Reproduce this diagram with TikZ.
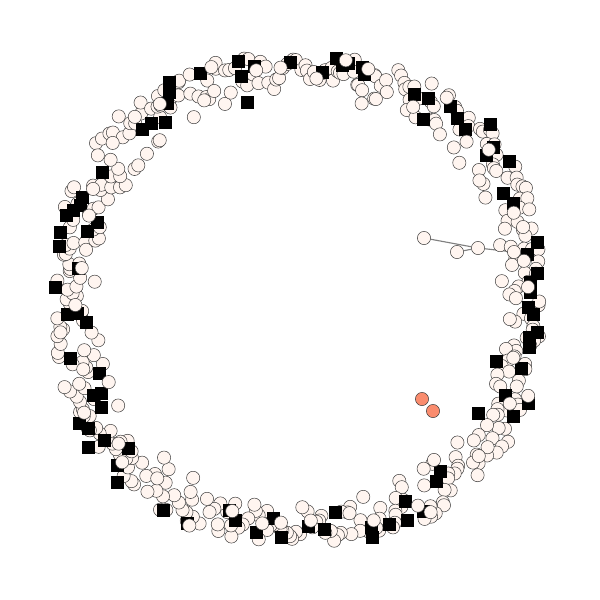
\documentclass[tikz,border=0pt]{standalone}
\usepackage{xcolor}
\usepackage{tikz}
\usetikzlibrary{backgrounds}
\definecolor{RingFill}{HTML}{FFF5F0}
\definecolor{RingLine}{HTML}{3C3C3C}
\definecolor{HitFill}{HTML}{FA8C6E}
\definecolor{LinkGray}{HTML}{808080}

\begin{document}
\begin{tikzpicture}[
  x=0.025cm,y=-0.025cm,
  dot/.style={circle,draw=RingLine,fill=RingFill,line width=0.35pt,minimum size=3.3mm,inner sep=0pt},
  hit/.style={dot,fill=HitFill},
  sq/.style={rectangle,draw=black,fill=black,minimum size=3.1mm,inner sep=0pt},
  link/.style={draw=LinkGray,line width=0.8pt}
]
  \useasboundingbox (0,0) rectangle (600,600);
  \pgfmathsetseed{11}
  \foreach \i in {1,...,400}{
    \pgfmathsetmacro\ang{(\i+rnd)*0.9}
    \pgfmathsetmacro\bulge{abs(sin(2*\ang))}
    \pgfmathsetmacro\rad{202+4*\bulge+(38+13*\bulge)*rnd^0.6}
    \node[dot] (a\i) at ({299+\rad*cos(\ang)},{299+\rad*sin(\ang)}) {};
  }
  \foreach \x/\y [count=\k] in {200/73,169/82,169/92,167/103,165/122,151/123,142/129,102/172,
      82/197,80/205,73/210,66/215,97/222,87/231,60/232,59/246,78/268,55/287,67/314,77/313,86/322,
      70/358,99/373,93/395,101/393,101/407,79/423,88/428,88/447,104/440,128/448,117/465,117/482,
      163/510,187/523,229/510,235/520,256/532,273/518,281/537,308/526,324/529,335/512,371/527,
      372/537,389/524,407/520,405/501,423/511,436/481,440/471,478/413,505/395,513/416,528/403,
      521/368,496/361,529/347,529/337,537/332,533/314,528/307,530/292,530/282,537/273,527/254,
      537/242,513/203,503/193,509/161,486/155,493/147,490/124,465/129,457/118,450/106,423/119,
      428/98,414/94,364/74,362/67,348/63,342/65,336/58,322/72,290/62,254/66,247/102,241/76,238/61}
    \node[sq] (s\k) at (\x,\y) {};
  \foreach \i in {1,...,50}{
    \pgfmathsetmacro\ang{(\i+rnd)*7.2+2.3}
    \pgfmathsetmacro\bulge{abs(sin(2*\ang))}
    \pgfmathsetmacro\rad{202+4*\bulge+(38+13*\bulge)*rnd^0.6}
    \node[dot] (b\i) at ({299+\rad*cos(\ang)},{299+\rad*sin(\ang)}) {};
  }
  \node[dot] (u1) at (424,238) {};
  \node[dot] (u2) at (478,248) {};
  \node[dot] (u3) at (457,252) {};
  \node[dot] (u4) at (514,252) {};
  \node[hit] (h1) at (422,399) {};
  \node[hit] (h2) at (433,411) {};
  \begin{scope}[on background layer]
    \fill[white] (0,0) rectangle (600,600);
    \draw[link] (u1) -- (u2) (u3) -- (u2) (u2) -- (u4);
  \end{scope}
\end{tikzpicture}
\end{document}
